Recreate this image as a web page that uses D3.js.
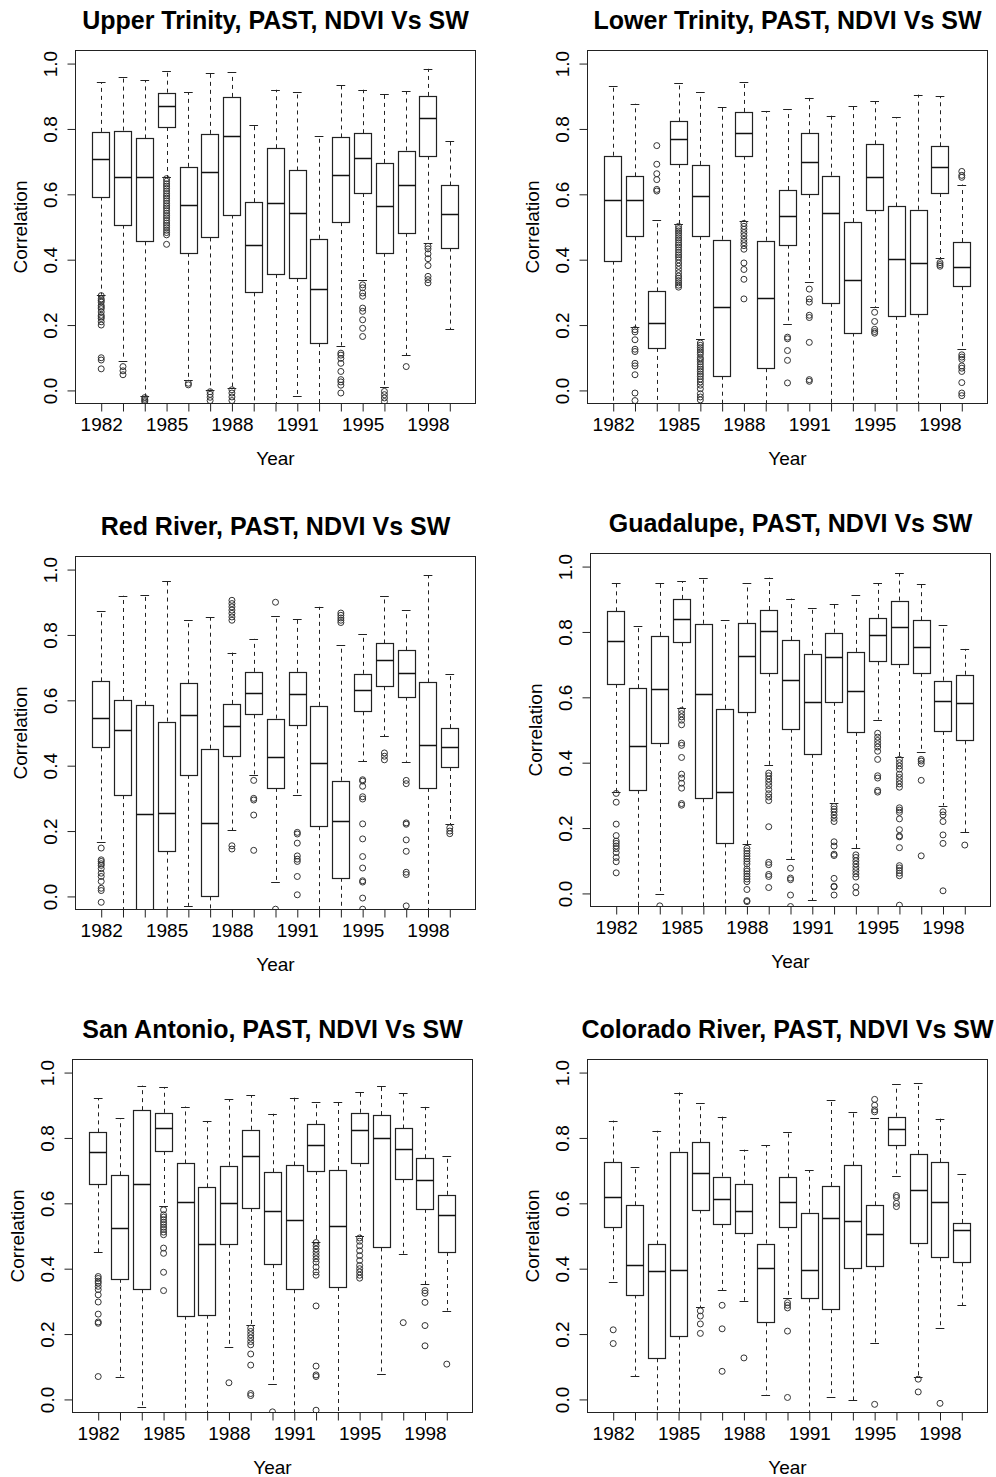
<!DOCTYPE html>
<html>
<head>
<meta charset="utf-8">
<script src="https://cdn.jsdelivr.net/npm/d3@7"></script>
<style>
  body { margin: 0; background: #fff; }
  svg { display: block; font-family: "Liberation Sans", Arial, sans-serif; }
</style>
</head>
<body>
<div id="chart"></div>
<script>
// years on the x axis (1994 is missing in the source data)
const years = [1982, 1983, 1984, 1985, 1986, 1987, 1988, 1989, 1990, 1991, 1992, 1993, 1995, 1996, 1997, 1998, 1999];
const shownYears = [1982, 1985, 1988, 1991, 1995, 1998];
const yTicks = [0, 0.2, 0.4, 0.6, 0.8, 1.0];

// box stats per year: [lower whisker, Q1, median, Q3, upper whisker]
const upperTrinityStats = [
  [0.293, 0.593, 0.709, 0.791, 0.943], [0.091, 0.507, 0.653, 0.795, 0.958], [-0.018, 0.456, 0.653, 0.771, 0.949],
  [0.653, 0.806, 0.870, 0.911, 0.977], [0.031, 0.421, 0.567, 0.684, 0.913], [0.000, 0.468, 0.668, 0.785, 0.971],
  [0.007, 0.538, 0.779, 0.898, 0.974], [-0.06, 0.300, 0.446, 0.576, 0.812], [-0.06, 0.356, 0.572, 0.741, 0.920],
  [-0.018, 0.344, 0.542, 0.673, 0.912], [-0.06, 0.145, 0.310, 0.464, 0.778], [0.137, 0.515, 0.658, 0.774, 0.934],
  [0.339, 0.604, 0.712, 0.787, 0.920], [0.012, 0.421, 0.564, 0.696, 0.908], [0.108, 0.482, 0.630, 0.734, 0.916],
  [0.451, 0.718, 0.833, 0.901, 0.984], [0.187, 0.437, 0.539, 0.627, 0.762]
];
const upperTrinityOut = [
  [0.29, 0.28, 0.275, 0.27, 0.26, 0.255, 0.25, 0.24, 0.23, 0.225, 0.22, 0.21, 0.20, 0.10, 0.093, 0.066],
  [0.073, 0.06, 0.048],
  [-0.022, -0.027, -0.031, -0.035],
  [0.648, 0.64, 0.632, 0.625, 0.618, 0.61, 0.602, 0.595, 0.588, 0.58, 0.572, 0.565, 0.558, 0.55, 0.542, 0.535, 0.528, 0.52, 0.512, 0.505, 0.498, 0.49, 0.483, 0.476, 0.447],
  [0.022, 0.017],
  [-0.004, -0.012, -0.021, -0.031],
  [0.002, -0.008, -0.02, -0.031],
  [], [], [], [],
  [0.114, 0.108, 0.098, 0.083, 0.058, 0.033, 0.026, 0.016, -0.008],
  [0.323, 0.314, 0.298, 0.288, 0.252, 0.242, 0.216, 0.19, 0.165],
  [-0.003, -0.013, -0.023, -0.034],
  [0.073],
  [0.441, 0.433, 0.418, 0.403, 0.382, 0.349, 0.339, 0.329],
  []
];

const lowerTrinityStats = [
  [-0.06, 0.397, 0.583, 0.718, 0.930], [0.194, 0.471, 0.583, 0.655, 0.877], [-0.06, 0.130, 0.206, 0.303, 0.521],
  [0.509, 0.693, 0.769, 0.823, 0.940], [0.158, 0.473, 0.595, 0.690, 0.913], [-0.06, 0.045, 0.256, 0.461, 0.866],
  [0.517, 0.718, 0.787, 0.852, 0.943], [-0.06, 0.068, 0.283, 0.458, 0.855], [0.203, 0.446, 0.535, 0.613, 0.860],
  [0.332, 0.601, 0.699, 0.787, 0.895], [-0.06, 0.268, 0.544, 0.657, 0.841], [-0.06, 0.177, 0.339, 0.515, 0.869],
  [0.254, 0.551, 0.652, 0.753, 0.885], [-0.06, 0.228, 0.402, 0.563, 0.836], [-0.06, 0.235, 0.390, 0.553, 0.905],
  [0.404, 0.604, 0.685, 0.747, 0.900], [0.127, 0.319, 0.377, 0.454, 0.630]
];
const lowerTrinityOut = [
  [],
  [0.186, 0.179, 0.155, 0.126, 0.119, 0.083, 0.075, 0.048, -0.008, -0.031],
  [0.749, 0.692, 0.663, 0.645, 0.615, 0.610],
  [0.502, 0.495, 0.488, 0.481, 0.474, 0.467, 0.46, 0.452, 0.445, 0.438, 0.43, 0.422, 0.415, 0.408, 0.40, 0.39, 0.38, 0.37, 0.36, 0.35, 0.343, 0.336, 0.329, 0.322, 0.316],
  [0.145, 0.138, 0.131, 0.124, 0.117, 0.11, 0.1, 0.095, 0.088, 0.08, 0.072, 0.065, 0.058, 0.05, 0.043, 0.035, 0.026, 0.016, 0.005, -0.01, -0.02, -0.029],
  [],
  [0.511, 0.502, 0.493, 0.483, 0.473, 0.462, 0.452, 0.443, 0.432, 0.39, 0.37, 0.34, 0.28],
  [],
  [0.163, 0.158, 0.122, 0.092, 0.023],
  [0.31, 0.28, 0.27, 0.23, 0.223, 0.147, 0.033, 0.028],
  [], [],
  [0.239, 0.211, 0.187, 0.18, 0.175],
  [], [],
  [0.391, 0.385, 0.38],
  [0.670, 0.658, 0.652, 0.109, 0.102, 0.095, 0.075, 0.068, 0.058, 0.024, -0.008, -0.016]
];

const redRiverStats = [
  [0.168, 0.456, 0.547, 0.658, 0.872], [-0.06, 0.310, 0.509, 0.601, 0.920], [-0.3, -0.1, 0.253, 0.586, 0.923],
  [-0.06, 0.140, 0.256, 0.535, 0.964], [-0.029, 0.372, 0.554, 0.652, 0.845], [-0.06, 0.000, 0.224, 0.452, 0.854],
  [0.202, 0.431, 0.521, 0.589, 0.746], [0.370, 0.557, 0.622, 0.687, 0.788], [0.044, 0.332, 0.427, 0.544, 0.857],
  [0.310, 0.524, 0.619, 0.687, 0.850], [-0.06, 0.215, 0.408, 0.583, 0.886], [-0.06, 0.057, 0.231, 0.354, 0.768],
  [0.414, 0.566, 0.633, 0.681, 0.803], [0.490, 0.643, 0.724, 0.774, 0.920], [0.412, 0.611, 0.684, 0.753, 0.875],
  [-0.06, 0.332, 0.462, 0.655, 0.982], [0.221, 0.396, 0.456, 0.515, 0.680]
];
const redRiverOut = [
  [0.148, 0.112, 0.107, 0.1, 0.095, 0.085, 0.071, 0.061, 0.046, 0.025, 0.018, -0.018],
  [], [], [], [], [],
  [0.906, 0.896, 0.886, 0.876, 0.866, 0.855, 0.845, 0.155, 0.145],
  [0.355, 0.30, 0.295, 0.249, 0.141],
  [0.900, -0.039],
  [0.196, 0.191, 0.163, 0.124, 0.114, 0.107, 0.061, 0.005],
  [],
  [0.867, 0.860, 0.852, 0.845, 0.838],
  [0.357, 0.353, 0.337, 0.305, 0.298, 0.222, 0.176, 0.122, 0.087, 0.048, 0.044, -0.005, -0.039],
  [0.439, 0.429, 0.418],
  [0.355, 0.345, 0.225, 0.221, 0.173, 0.138, 0.074, 0.067, -0.029],
  [],
  [0.21, 0.2, 0.192]
];

const guadalupeStats = [
  [0.311, 0.641, 0.771, 0.863, 0.949], [-0.06, 0.317, 0.450, 0.628, 0.818], [-0.003, 0.460, 0.626, 0.788, 0.949],
  [0.567, 0.768, 0.839, 0.901, 0.955], [-0.06, 0.291, 0.610, 0.825, 0.966], [-0.06, 0.153, 0.309, 0.565, 0.836],
  [0.151, 0.554, 0.725, 0.826, 0.949], [0.392, 0.675, 0.802, 0.867, 0.966], [0.106, 0.504, 0.652, 0.775, 0.902],
  [-0.020, 0.427, 0.585, 0.733, 0.874], [0.278, 0.586, 0.722, 0.798, 0.887], [0.138, 0.494, 0.618, 0.739, 0.912],
  [0.532, 0.710, 0.791, 0.843, 0.949], [0.416, 0.702, 0.814, 0.896, 0.980], [0.434, 0.675, 0.754, 0.836, 0.948],
  [0.269, 0.497, 0.588, 0.651, 0.820], [0.188, 0.468, 0.583, 0.669, 0.748]
];
const guadalupeOut = [
  [0.306, 0.279, 0.212, 0.177, 0.16, 0.153, 0.145, 0.137, 0.125, 0.11, 0.097, 0.063],
  [],
  [-0.038],
  [0.56, 0.55, 0.54, 0.53, 0.516, 0.46, 0.453, 0.416, 0.365, 0.353, 0.337, 0.322, 0.275, 0.27],
  [], [],
  [0.138, 0.13, 0.122, 0.114, 0.106, 0.098, 0.09, 0.075, 0.068, 0.06, 0.052, 0.044, 0.036, 0.012, -0.022, -0.025],
  [0.368, 0.36, 0.35, 0.34, 0.33, 0.318, 0.305, 0.295, 0.284, 0.204, 0.095, 0.088, 0.058, 0.052, 0.018],
  [0.077, 0.047, 0.042, -0.005, -0.04],
  [],
  [0.266, 0.258, 0.25, 0.24, 0.23, 0.22, 0.158, 0.145, 0.12, 0.116, 0.046, 0.022, 0.02, -0.005],
  [0.118, 0.11, 0.1, 0.09, 0.08, 0.07, 0.06, 0.05, 0.02, 0.002],
  [0.49, 0.478, 0.468, 0.458, 0.448, 0.435, 0.41, 0.36, 0.353, 0.315, 0.31],
  [0.41, 0.4, 0.39, 0.38, 0.365, 0.355, 0.345, 0.335, 0.325, 0.262, 0.255, 0.248, 0.228, 0.195, 0.176, 0.173, 0.14, 0.085, 0.078, 0.07, 0.062, 0.054, -0.036],
  [0.41, 0.405, 0.397, 0.346, 0.115],
  [0.25, 0.24, 0.22, 0.179, 0.153, 0.008],
  [0.148]
];

const sanAntonioStats = [
  [0.450, 0.658, 0.756, 0.817, 0.921], [0.070, 0.369, 0.525, 0.686, 0.861], [-0.022, 0.337, 0.658, 0.885, 0.960],
  [0.591, 0.760, 0.829, 0.877, 0.956], [-0.06, 0.256, 0.604, 0.722, 0.896], [-0.06, 0.259, 0.475, 0.649, 0.852],
  [0.161, 0.476, 0.601, 0.715, 0.918], [0.228, 0.586, 0.744, 0.825, 0.930], [0.046, 0.414, 0.576, 0.695, 0.874],
  [-0.06, 0.337, 0.550, 0.716, 0.923], [0.481, 0.699, 0.778, 0.842, 0.909], [-0.06, 0.344, 0.532, 0.702, 0.911],
  [0.499, 0.724, 0.824, 0.877, 0.941], [0.078, 0.465, 0.801, 0.870, 0.960], [0.446, 0.675, 0.767, 0.829, 0.937],
  [0.353, 0.583, 0.672, 0.738, 0.895], [0.272, 0.451, 0.563, 0.626, 0.746]
];
const sanAntonioOut = [
  [0.376, 0.37, 0.362, 0.356, 0.346, 0.336, 0.32, 0.298, 0.261, 0.237, 0.233, 0.07],
  [], [],
  [0.58, 0.565, 0.558, 0.55, 0.542, 0.535, 0.527, 0.52, 0.512, 0.504, 0.463, 0.447, 0.389, 0.333],
  [], [],
  [0.051],
  [0.218, 0.208, 0.198, 0.188, 0.177, 0.167, 0.139, 0.105, 0.018, 0.012],
  [-0.038],
  [],
  [0.48, 0.47, 0.46, 0.45, 0.44, 0.43, 0.42, 0.405, 0.39, 0.38, 0.286, 0.102, 0.075, 0.07, -0.033],
  [],
  [0.494, 0.484, 0.47, 0.455, 0.44, 0.425, 0.41, 0.4, 0.39, 0.38, 0.371],
  [],
  [0.235],
  [0.333, 0.325, 0.297, 0.226, 0.164],
  [0.108]
];

const coloradoStats = [
  [0.360, 0.527, 0.619, 0.725, 0.853], [0.072, 0.321, 0.410, 0.594, 0.710], [-0.06, 0.126, 0.392, 0.474, 0.822],
  [-0.06, 0.195, 0.397, 0.758, 0.939], [0.282, 0.581, 0.692, 0.787, 0.907], [0.335, 0.537, 0.612, 0.682, 0.865],
  [0.302, 0.509, 0.578, 0.660, 0.764], [0.015, 0.236, 0.401, 0.477, 0.777], [0.309, 0.528, 0.605, 0.679, 0.819],
  [-0.06, 0.309, 0.395, 0.571, 0.701], [0.008, 0.276, 0.556, 0.653, 0.916], [-0.002, 0.401, 0.546, 0.716, 0.879],
  [0.172, 0.407, 0.505, 0.594, 0.860], [0.685, 0.777, 0.828, 0.865, 0.964], [0.069, 0.478, 0.641, 0.751, 0.967],
  [0.220, 0.435, 0.603, 0.726, 0.859], [0.289, 0.419, 0.518, 0.540, 0.689]
];
const coloradoOut = [
  [0.213, 0.171],
  [], [], [],
  [0.271, 0.255, 0.231, 0.202],
  [0.288, 0.216, 0.086],
  [0.127],
  [],
  [0.296, 0.288, 0.28, 0.209, 0.006],
  [], [], [],
  [0.918, 0.9, 0.886, 0.88, -0.015],
  [0.624, 0.618, 0.6, 0.59],
  [0.062, 0.023],
  [-0.012],
  []
];

// panel frames (plot region in page pixels)
const panels = [
  { title: "Upper Trinity, PAST, NDVI Vs SW", stats: upperTrinityStats, out: upperTrinityOut, left: 75.5, top: 50.5, right: 475.5, bottom: 403.5 },
  { title: "Lower Trinity, PAST, NDVI Vs SW", stats: lowerTrinityStats, out: lowerTrinityOut, left: 587.5, top: 50.5, right: 987.5, bottom: 403.5 },
  { title: "Red River, PAST, NDVI Vs SW", stats: redRiverStats, out: redRiverOut, left: 75.5, top: 556.5, right: 475.5, bottom: 909.5 },
  { title: "Guadalupe, PAST, NDVI Vs SW", stats: guadalupeStats, out: guadalupeOut, left: 590.5, top: 553.5, right: 990.5, bottom: 906.5 },
  { title: "San Antonio, PAST, NDVI Vs SW", stats: sanAntonioStats, out: sanAntonioOut, left: 72.5, top: 1059.5, right: 472.5, bottom: 1412.5 },
  { title: "Colorado River, PAST, NDVI Vs SW", stats: coloradoStats, out: coloradoOut, left: 587.5, top: 1059.5, right: 987.5, bottom: 1412.5 }
];

const W = 996, H = 1477;
const ink = "#222";

const svg = d3.select("#chart").append("svg")
  .attr("width", W)
  .attr("height", H);

panels.forEach((p, pi) => {
  const n = years.length;
  // R style: xlim = [0.5, n + 0.5] with 4% padding; ylim = [0, 1] with 4% padding
  const x = d3.scaleLinear()
    .domain([0.5 - n * 0.04, n + 0.5 + n * 0.04])
    .range([p.left, p.right]);
  const y = d3.scaleLinear()
    .domain([-0.04, 1.04])
    .range([p.bottom, p.top]);

  const unit = x(2) - x(1);
  const boxW = unit * 0.8;
  const capW = boxW * 0.5;

  const g = svg.append("g").attr("class", "panel");

  const clipId = "clip" + pi;
  svg.append("clipPath").attr("id", clipId)
    .append("rect")
    .attr("x", p.left).attr("y", p.top)
    .attr("width", p.right - p.left).attr("height", p.bottom - p.top);

  const plot = g.append("g").attr("clip-path", `url(#${clipId})`);

  const boxes = plot.selectAll("g.box")
    .data(p.stats.map((s, i) => ({ s: s, out: p.out[i], pos: i + 1 })))
    .join("g")
    .attr("class", "box");

  // whiskers
  boxes.append("line")
    .attr("x1", d => Math.round(x(d.pos)) + 0.5).attr("x2", d => Math.round(x(d.pos)) + 0.5)
    .attr("y1", d => y(d.s[3])).attr("y2", d => y(d.s[4]))
    .attr("stroke", ink).attr("stroke-dasharray", "4,4");
  boxes.append("line")
    .attr("x1", d => Math.round(x(d.pos)) + 0.5).attr("x2", d => Math.round(x(d.pos)) + 0.5)
    .attr("y1", d => y(d.s[1])).attr("y2", d => y(d.s[0]))
    .attr("stroke", ink).attr("stroke-dasharray", "4,4");

  // staples
  [0, 4].forEach(k => {
    boxes.append("line")
      .attr("x1", d => x(d.pos) - capW / 2).attr("x2", d => x(d.pos) + capW / 2)
      .attr("y1", d => Math.round(y(d.s[k])) + 0.5).attr("y2", d => Math.round(y(d.s[k])) + 0.5)
      .attr("stroke", ink);
  });

  // box
  boxes.append("rect")
    .attr("x", d => Math.round(x(d.pos) - boxW / 2) + 0.5)
    .attr("y", d => Math.round(y(d.s[3])) + 0.5)
    .attr("width", Math.round(boxW))
    .attr("height", d => Math.round(y(d.s[1])) - Math.round(y(d.s[3])))
    .attr("fill", "#fff")
    .attr("stroke", ink)
    .attr("stroke-width", 1.2);

  // median
  boxes.append("line")
    .attr("x1", d => Math.round(x(d.pos) - boxW / 2) + 0.5)
    .attr("x2", d => Math.round(x(d.pos) - boxW / 2) + 0.5 + Math.round(boxW))
    .attr("y1", d => Math.round(y(d.s[2])) + 0.5).attr("y2", d => Math.round(y(d.s[2])) + 0.5)
    .attr("stroke", "#111")
    .attr("stroke-width", 1.5);

  // outliers
  boxes.selectAll("circle")
    .data(d => d.out.map(v => ({ v: v, pos: d.pos })))
    .join("circle")
    .attr("cx", d => x(d.pos))
    .attr("cy", d => y(d.v))
    .attr("r", 3)
    .attr("fill", "none")
    .attr("stroke", "#333")
    .attr("stroke-width", 1);

  // frame
  g.append("rect")
    .attr("x", p.left).attr("y", p.top)
    .attr("width", p.right - p.left).attr("height", p.bottom - p.top)
    .attr("fill", "none")
    .attr("stroke", ink);

  // x axis
  const xAxis = d3.axisBottom(x)
    .tickValues(d3.range(1, n + 1))
    .tickSize(8)
    .tickFormat(i => shownYears.includes(years[i - 1]) ? years[i - 1] : "");
  const xg = g.append("g")
    .attr("transform", `translate(0,${p.bottom})`)
    .call(xAxis);
  xg.select(".domain").remove();
  xg.selectAll(".tick line").attr("stroke", ink);
  xg.selectAll(".tick text")
    .attr("y", 14)
    .attr("fill", "#000")
    .style("font-size", "19px")
    .style("font-family", "'Liberation Sans', Arial, sans-serif");

  // y axis
  const yAxis = d3.axisLeft(y)
    .tickValues(yTicks)
    .tickSize(8)
    .tickFormat(d3.format(".1f"));
  const yg = g.append("g")
    .attr("transform", `translate(${p.left},0)`)
    .call(yAxis);
  yg.select(".domain").remove();
  yg.selectAll(".tick line").attr("stroke", ink);
  yg.selectAll(".tick text")
    .attr("x", 0).attr("y", 0).attr("dy", "0.36em")
    .attr("text-anchor", "middle")
    .attr("transform", "translate(-25,0) rotate(-90)")
    .attr("fill", "#000")
    .style("font-size", "19px")
    .style("font-family", "'Liberation Sans', Arial, sans-serif");

  // labels
  const cx = (p.left + p.right) / 2;
  const cy = (p.top + p.bottom) / 2;
  g.append("text")
    .attr("x", cx).attr("y", p.top - 31)
    .attr("dy", "0.36em")
    .attr("text-anchor", "middle")
    .style("font-size", "25px")
    .style("font-weight", "bold")
    .text(p.title);
  g.append("text")
    .attr("x", cx).attr("y", p.bottom + 55)
    .attr("dy", "0.36em")
    .attr("text-anchor", "middle")
    .style("font-size", "19px")
    .text("Year");
  g.append("text")
    .attr("transform", `translate(${p.left - 55},${cy}) rotate(-90)`)
    .attr("dy", "0.36em")
    .attr("text-anchor", "middle")
    .style("font-size", "19px")
    .text("Correlation");
});
</script>
</body>
</html>
